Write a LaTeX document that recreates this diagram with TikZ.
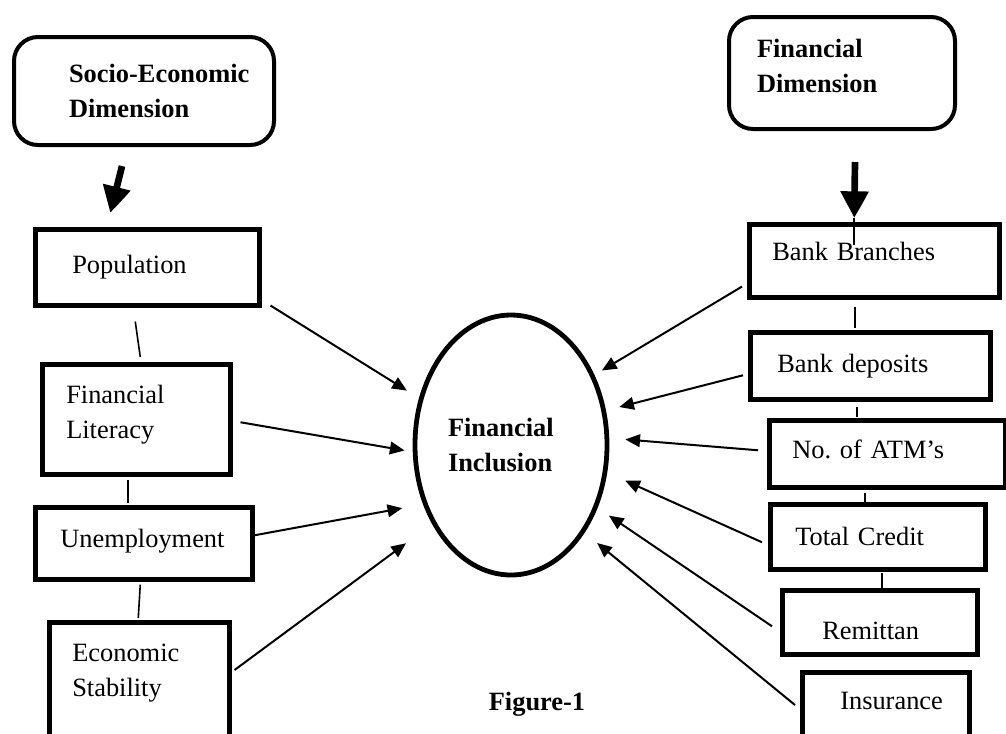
\documentclass[tikz,border=0pt]{standalone}
\usepackage{fontspec}
\setmainfont{Liberation Serif}
\usetikzlibrary{arrows.meta,shapes.geometric}

\newcommand{\diagfont}{\fontsize{19.8pt}{26.5pt}\selectfont\frenchspacing}

\begin{document}
\begin{tikzpicture}[x=0.75pt,y=-0.75pt,font=\diagfont,
    >={Triangle[length=11pt,width=9.5pt]},
    dimbox/.style={draw,rounded corners=18pt,line width=3pt,anchor=north west,
      align=left,inner ysep=2pt,font=\diagfont\bfseries},
    factor/.style={draw,line width=3.4pt,anchor=north west,align=left,inner ysep=2pt},
    boxdim/.style n args={3}{text width=#1,inner xsep=#2,minimum height=#3},
    goal/.style={ellipse,draw,line width=3.6pt,minimum width=144pt,minimum height=195pt,
      text width=94.5pt,align=left,inner sep=0pt,font=\diagfont\bfseries},
    feeds/.style={->,line width=1.5pt},
    link/.style={line width=1.2pt},
    bigarrow/.style={-{Triangle[length=20pt,width=20pt]},line width=5pt,
      preaction={draw=gray!60,transform canvas={shift={(2pt,-1.5pt)}}}}]
    \useasboundingbox (0,0) rectangle (1006,733);

    % the two dimensions
    \node[dimbox,boxdim={112.5pt}{41.25pt}{81pt}] (sed) at (12,35) {\mbox{Socio-Economic}\\Dimension};
    \node[dimbox,boxdim={127.5pt}{21pt}{84pt},text depth=37pt] (fd) at (727,15) {Financial\\Dimension};

    % socio-economic factors
    \node[factor,boxdim={112.5pt}{27.75pt}{57pt}] (pop) at (33,227) {Population};
    \node[factor,boxdim={105pt}{18pt}{82.5pt},text depth=38pt] (lit) at (40,362) {Financial\\Literacy};
    \node[factor,boxdim={125.25pt}{18.75pt}{54pt},text depth=8pt] (unemp) at (33,505) {\mbox{Unemployment}};
    \node[factor,text width=100.5pt,inner xsep=17.25pt,inner ysep=16pt,text depth=80pt] (stab) at (47,620) {Economic\\Stability};

    % financial factors
    \node[factor,boxdim={153pt}{17.25pt}{54.75pt},text depth=13.5pt] (branch) at (747,222) {Bank Branches};
    \node[factor,boxdim={139.5pt}{20.25pt}{50.25pt}] (depo) at (748,330) {Bank deposits};
    \node[factor,boxdim={142.5pt}{17.25pt}{50.25pt},text depth=7.5pt] (atm) at (767,418) {No. of ATM’s};
    \node[factor,boxdim={123.75pt}{18.75pt}{48.75pt}] (credit) at (768,502) {Total Credit};
    \node[factor,boxdim={86.25pt}{30pt}{48pt},text height=25.5pt] (remit) at (780,588) {Remittan};
    \node[factor,text width=68.25pt,inner xsep=28.5pt,inner ysep=15pt,text depth=80pt] (insur) at (800,670) {\mbox{Insurance}};

    \node[goal] (incl) at (511,445) {Financial\\Inclusion};
    \node[font=\diagfont\bfseries,anchor=base] (figlabel) at (537,710) {Figure-1};

    % thick arrows
    \draw[bigarrow] ([shift={(-22,19)}]sed.south) -- ([shift={(-37,-14)}]pop.north);
    \draw[bigarrow] ([shift={(13,31)}]fd.south) -- ([shift={(-20,-4)}]branch.north);

    % thin links
    \draw[link] ([shift={(-12,14)}]pop.south) -- ([shift={(4,-5)}]lit.north);
    \draw[link] ([shift={(-8,3)}]lit.south) -- ([shift={(-15.5,-2)}]unemp.north);
    \draw[link] ([shift={(-3.5,3)}]unemp.south) -- ([shift={(-1,-2)}]stab.north);
    \draw[link] ([shift={(-20,-4)}]branch.north) -- ([shift={(-20,23)}]branch.north);
    \draw[link] ([shift={(-19,7)}]branch.south) -- ([shift={(-15,-2)}]depo.north);
    \draw[link] ([shift={(-13,5)}]depo.south) -- ([shift={(-30,-1)}]atm.north);
    \draw[link] ([shift={(-22,3)}]atm.south) -- ([shift={(-12.5,0)}]credit.north);
    \draw[link] ([shift={(4.5,1)}]credit.south) -- ([shift={(2.5,0)}]remit.north);

    % arrows into the ellipse
    \draw[feeds,shorten >=10.7pt] ([shift={(9,-2)}]pop.south east) -- (incl.153);
    \draw[feeds,shorten >=6.2pt] ([shift={(8,3)}]lit.east) -- (incl.184);
    \draw[feeds,shorten >=15.9pt] ([shift={(0,-8)}]unemp.east) -- (incl.214);
    \draw[feeds,shorten >=24.3pt] ([shift={(3,50)}]stab.north east) -- (incl.225);
    \draw[feeds,shorten >=6.5pt] ([shift={(-5,-13)}]branch.south west) -- (incl.40);
    \draw[feeds,shorten >=10.3pt] ([shift={(-5,9.5)}]depo.west) -- (incl.20);
    \draw[feeds,shorten >=12.1pt] ([shift={(-9,-3.5)}]atm.west) -- (incl.4);
    \draw[feeds,shorten >=14.8pt] ([shift={(-6,5.5)}]credit.west) -- (incl.344);
    \draw[feeds,shorten >=10.3pt] ([shift={(-8,4)}]remit.west) -- (incl.324);
    \draw[feeds,shorten >=12.1pt] ([shift={(-5,35)}]insur.north west) -- (incl.310);
\end{tikzpicture}
\end{document}
